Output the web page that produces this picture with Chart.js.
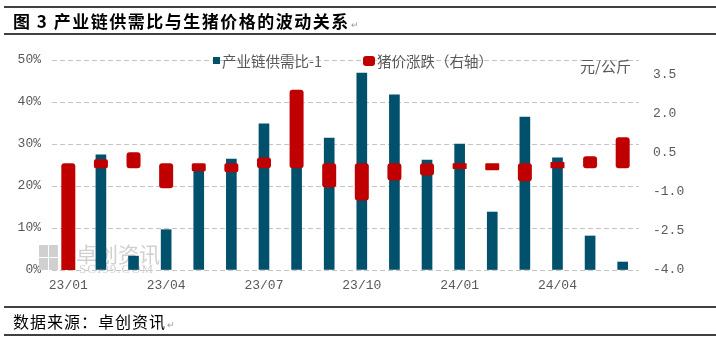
<!DOCTYPE html>
<html>
<head>
<meta charset="utf-8">
<script src="https://cdn.jsdelivr.net/npm/chart.js@4.4.1/dist/chart.umd.min.js"></script>
<style>
  html, body { margin: 0; padding: 0; background: #fff; }
  #wrap { position: relative; width: 716px; height: 339px; }
</style>
</head>
<body>
<div id="wrap"><canvas id="hogChart" width="716" height="339"></canvas></div>
<script>
// data
const months = ["23/01", "23/02", "23/03", "23/04", "23/05", "23/06", "23/07", "23/08", "23/09",
                "23/10", "23/11", "23/12", "24/01", "24/02", "24/03", "24/04", "24/05", "24/06"];
const supplyDemandRatio = [null, 27.4, 3.3, 9.6, 24.0, 26.4, 34.8, 26.0, 31.4,
                           46.9, 41.7, 26.2, 30.0, 13.8, 36.4, 26.7, 8.1, 1.9];   // %, left axis
const hogPriceChange = [-4.3, 0.15, 0.42, -0.77, -0.12, -0.16, 0.22, 2.81, -0.74,
                        -1.24, -0.47, -0.28, -0.03, -0.08, -0.5, 0.04, 0.26, 0.99]; // 元/公斤, right axis
const leftTicks = [0, 10, 20, 30, 40, 50];
const rightTicks = [-4.0, -2.5, -1.0, 0.5, 2.0, 3.5];

const titleText = "图 3 产业链供需比与生猪价格的波动关系";
const sourceText = "数据来源：卓创资讯";
const unitText = "元/公斤";

const TEAL = "#01506c";
const RED = "#c00000";
const GREY_TEXT = "#595959";
const CJK = "'Noto Sans CJK SC', sans-serif";

Chart.defaults.font.family = "'Liberation Mono', 'Noto Sans CJK SC', monospace";
Chart.defaults.font.size = 13;
Chart.defaults.color = GREY_TEXT;

// title, source, rules, legend and the unit label
const decorations = {
  id: "decorations",
  beforeDatasetsDraw(chart) {
    const ctx = chart.ctx;
    ctx.save();
    // faint source watermark
    ctx.fillStyle = "#d0d0d0";
    ctx.fillRect(39, 245, 9, 12);
    ctx.fillRect(49, 245, 9, 12);
    ctx.fillRect(39, 258, 9, 12);
    ctx.fillRect(49, 258, 9, 12);
    ctx.font = "21px " + CJK;
    ctx.textBaseline = "middle";
    ctx.fillText("卓创资讯", 76, 254);
    ctx.font = "13px 'Liberation Serif', serif";
    ctx.letterSpacing = "1px";
    ctx.fillText("SCI99.COM", 79, 270);
    ctx.restore();
  },
  afterDraw(chart) {
    const ctx = chart.ctx;
    ctx.save();
    ctx.strokeStyle = "#000";
    ctx.lineWidth = 1.5;
    [7, 34, 307, 335].forEach((y) => {
      ctx.beginPath();
      ctx.moveTo(4, y);
      ctx.lineTo(716, y);
      ctx.stroke();
    });

    ctx.textBaseline = "middle";
    ctx.fillStyle = "#000";
    ctx.font = "bold 17px " + CJK;
    ctx.letterSpacing = "1.5px";
    ctx.fillText(titleText, 13, 22);
    let w = ctx.measureText(titleText).width;
    ctx.letterSpacing = "0px";
    ctx.fillStyle = "#9a9a9a";
    ctx.font = "9px " + CJK;
    ctx.fillText("↵", 13 + w + 1, 25);

    ctx.fillStyle = "#000";
    ctx.font = "16px " + CJK;
    ctx.letterSpacing = "1px";
    ctx.fillText(sourceText, 13, 322);
    w = ctx.measureText(sourceText).width;
    ctx.letterSpacing = "0px";
    ctx.fillStyle = "#9a9a9a";
    ctx.font = "9px " + CJK;
    ctx.fillText("↵", 13 + w + 1, 325);

    // legend
    const ds = chart.data.datasets;
    ctx.font = "14.5px " + CJK;
    ctx.fillStyle = TEAL;
    ctx.fillRect(213, 57, 7, 7);
    ctx.fillStyle = GREY_TEXT;
    ctx.fillText(ds[0].label, 222, 61);

    ctx.fillStyle = RED;
    ctx.beginPath();
    ctx.roundRect(363, 56, 12, 10, 3);
    ctx.fill();
    ctx.fillStyle = GREY_TEXT;
    ctx.fillText(ds[1].label, 377, 61);

    ctx.font = "15px " + CJK;
    ctx.fillText(unitText, 580, 66);
    ctx.restore();
  }
};

const ctx = document.getElementById("hogChart").getContext("2d");

new Chart(ctx, {
  type: "bar",
  data: {
    labels: months,
    datasets: [
      {
        label: "产业链供需比-1",
        data: supplyDemandRatio,
        yAxisID: "y",
        backgroundColor: TEAL,
        barThickness: 10,
        grouped: false,
        order: 1,
      },
      {
        label: "猪价涨跌（右轴）",
        data: hogPriceChange,
        yAxisID: "y1",
        backgroundColor: RED,
        barThickness: 9,
        inflateAmount: 2.5,
        borderRadius: 3,
        borderSkipped: false,
        grouped: false,
        clip: 0,
        order: 0,
      },
    ],
  },
  options: {
    responsive: false,
    animation: false,
    layout: { padding: { top: 60, bottom: 39, left: 0, right: 0 } },
    plugins: {
      legend: { display: false },
      tooltip: { enabled: false },
    },
    scales: {
      x: {
        offset: true,
        grid: { display: false, drawTicks: false },
        border: { display: false },
        ticks: {
          autoSkip: false,
          maxRotation: 0,
          padding: 8,
          callback: function (value, index) {
            return index % 3 === 0 ? months[index] : "";
          },
        },
        afterFit: (scale) => { scale.height = 30; },
      },
      y: {
        position: "left",
        min: leftTicks[0],
        max: leftTicks[leftTicks.length - 1],
        grid: { color: "#c4c4c4", lineWidth: 1, drawTicks: false },
        border: { display: false, dash: [5, 3] },
        ticks: {
          stepSize: 10,
          padding: 11,
          callback: (v) => v + "%",
        },
        afterFit: (scale) => { scale.width = 52; },
      },
      y1: {
        position: "right",
        min: -4,
        max: 4.05,
        grid: { display: false, drawTicks: false },
        border: { display: false },
        afterBuildTicks: (scale) => {
          scale.ticks = rightTicks.map((v) => ({ value: v }));
        },
        ticks: {
          padding: 14,
          callback: (v) => v.toFixed(1),
        },
        afterFit: (scale) => { scale.width = 77; },
      },
    },
  },
  plugins: [decorations],
});
</script>
</body>
</html>
